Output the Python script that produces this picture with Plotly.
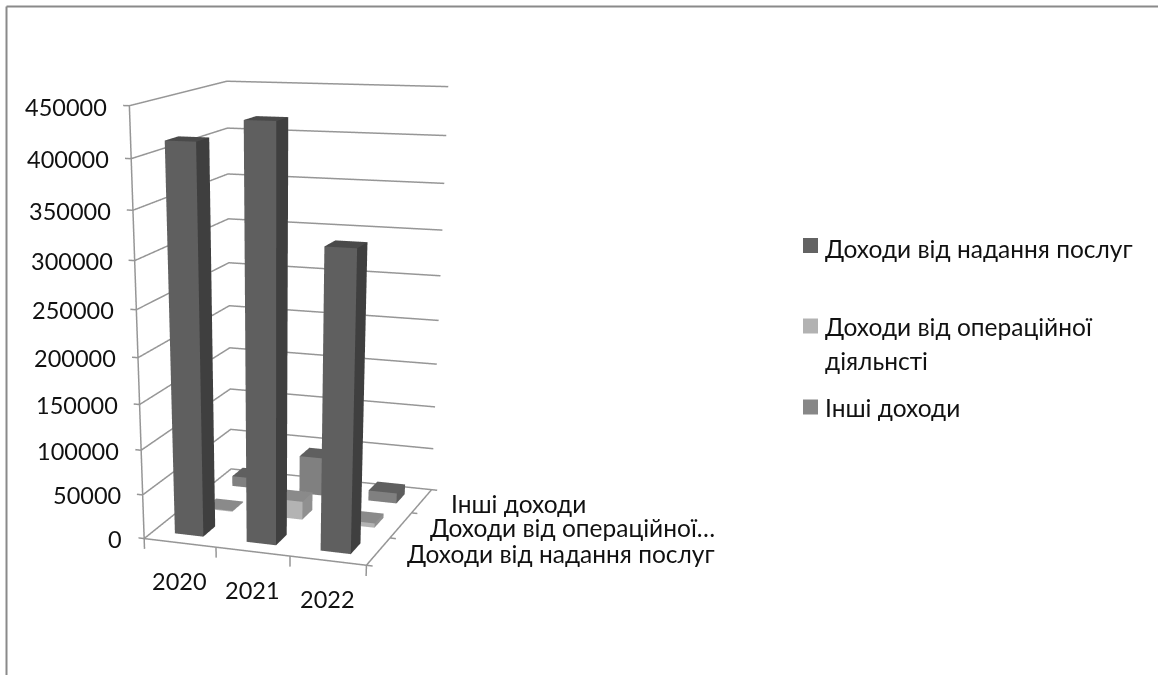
import plotly.graph_objects as go

years = ["2020", "2021", "2022"]
series_names = ["Доходи від надання послуг", "Доходи від операційної<br>діяльнсті", "Інші доходи"]
depth_labels = ["Доходи від надання послуг", "Доходи від операційної…", "Інші доходи"]
services = [415000, 437000, 320000]
operating = [1000, 21000, 5000]
other = [12000, 45000, 12000]
z_ticks = list(range(0, 450001, 50000))

X_RANGE = [-0.2, 3.2]
Y_RANGE = [-0.05, 3.05]
Z_RANGE = [-20000, 460000]

# The scene is laid out taller than the page so its lens is long enough for a shallow perspective.
PAGE_H = 1400
SCENE_CX = 235.0
EYE = [2.0515, -6.0495, 1.4041]
CENTER = [-0.0599, -0.5137, -1.366]
UP = [-0.1411, 0.3995, 0.9058]
ASPECT = [1.0, 0.9682, 1.67]

FONT = "Lato"
TEXT = "#111"
GRID = "#969696"
# front, side and top shades for each series
PALETTE = [("#5f5f5f", "#3f3f3f", "#4a4a4a"),
           ("#b3b3b3", "#909090", "#8a8a8a"),
           ("#808080", "#5d5d5d", "#5f5f5f")]
LEGEND_SWATCHES = ["#636363", "#b2b2b2", "#878787"]


def bar(i, j, value, shades):
    """One column as a box on the floor, category i, series row j."""
    x0, x1 = i + .3, i + .7
    y0, y1 = j + .3, j + .7
    front, side, top = shades
    return go.Mesh3d(
        x=[x0, x1, x1, x0, x0, x1, x1, x0],
        y=[y0, y0, y1, y1, y0, y0, y1, y1],
        z=[0, 0, 0, 0, value, value, value, value],
        i=[0, 0, 4, 4, 1, 1, 0, 0, 3, 3, 0, 0],
        j=[1, 2, 5, 6, 2, 6, 1, 5, 2, 6, 3, 7],
        k=[2, 3, 6, 7, 6, 5, 5, 4, 6, 7, 7, 4],
        facecolor=[front] * 2 + [top] * 2 + [side] * 2 + [front] * 6,
        flatshading=True,
        lighting=dict(ambient=1, diffuse=0, specular=0, fresnel=0),
        hoverinfo="skip",
    )


fig = go.Figure()
for j, vals in enumerate([services, operating, other]):
    for i, v in enumerate(vals):
        fig.add_trace(bar(i, j, v, PALETTE[j]))

# wall gridlines, floor edges and tick marks
lx, ly, lz = [], [], []


def seg(*path):
    for a, b, c in path:
        lx.append(a)
        ly.append(b)
        lz.append(c)
    lx.append(None)
    ly.append(None)
    lz.append(None)


for t in z_ticks:
    seg((-0.08, 0, t), (0, 0, t), (0, 3, t), (3, 3, t))
seg((0, 0, 0), (0, 0, z_ticks[-1]))
seg((0, 0, 0), (3, 0, 0), (3, 3, 0))
for i in range(4):
    seg((i, 0, 0), (i, 0, -12000))
    seg((3, i, 0), (3.08, i, 0))
fig.add_trace(go.Scatter3d(x=lx, y=ly, z=lz, mode="lines",
                           line=dict(color=GRID, width=3), hoverinfo="skip"))

scene_ann = []
for t in z_ticks:
    scene_ann.append(dict(x=-0.08, y=0, z=t, text=str(t), showarrow=False,
                          xanchor="right", yanchor="middle", xshift=-14, yshift=-1,
                          font=dict(family=FONT, size=23.5, color=TEXT)))
for i, y in enumerate(years):
    scene_ann.append(dict(x=i + .5, y=0, z=0, text=y, showarrow=False,
                          xanchor="center", yanchor="middle", yshift=-38,
                          font=dict(family=FONT, size=23.5, color=TEXT)))
for j, s in enumerate(depth_labels):
    scene_ann.append(dict(x=3, y=j + .5, z=0, text=s, showarrow=False,
                          xanchor="left", yanchor="middle", xshift=27, yshift=-2,
                          font=dict(family=FONT, size=24.5, color=TEXT)))


def px(v):
    return v / 1158


def py(v):
    return 1 - v / PAGE_H


frame = dict(type="line", xref="paper", yref="paper", line=dict(color="#8a8a8a", width=2))
shapes = [dict(frame, x0=px(6.5), x1=1, y0=py(6.5), y1=py(6.5)),
          dict(frame, x0=px(6.5), x1=px(6.5), y0=py(6.5), y1=0)]
for colour, y in zip(LEGEND_SWATCHES, [245.5, 326, 407]):
    shapes.append(dict(type="rect", xref="paper", yref="paper",
                       x0=px(803), x1=px(818), y0=py(y + 7.5), y1=py(y - 7.5),
                       fillcolor=colour, line=dict(width=0)))

anns = []
for s, y in zip(series_names, [249, 326, 408]):
    for k, line in enumerate(s.split("<br>")):
        anns.append(dict(xref="paper", yref="paper", x=px(823), y=py(y + 35 * k), text=line,
                         showarrow=False, xanchor="left", yanchor="middle",
                         font=dict(family=FONT, size=24.5, color=TEXT)))

hidden = dict(showbackground=False, showspikes=False, showgrid=False, zeroline=False,
              showline=False, ticks="", showticklabels=False, title="")
fig.update_layout(
    width=1158, height=PAGE_H, margin=dict(l=0, r=0, t=0, b=0), showlegend=False,
    paper_bgcolor="white", shapes=shapes, annotations=anns,
    scene=dict(
        domain=dict(x=[0, 2 * SCENE_CX / 1158], y=[0, 1]),
        annotations=scene_ann,
        camera=dict(eye=dict(x=EYE[0], y=EYE[1], z=EYE[2]),
                    center=dict(x=CENTER[0], y=CENTER[1], z=CENTER[2]),
                    up=dict(x=UP[0], y=UP[1], z=UP[2]),
                    projection=dict(type="perspective")),
        aspectmode="manual",
        aspectratio=dict(x=ASPECT[0], y=ASPECT[1], z=ASPECT[2]),
        xaxis=dict(hidden, range=X_RANGE),
        yaxis=dict(hidden, range=Y_RANGE),
        zaxis=dict(hidden, range=Z_RANGE),
    ),
)
fig.write_html("out.html")
